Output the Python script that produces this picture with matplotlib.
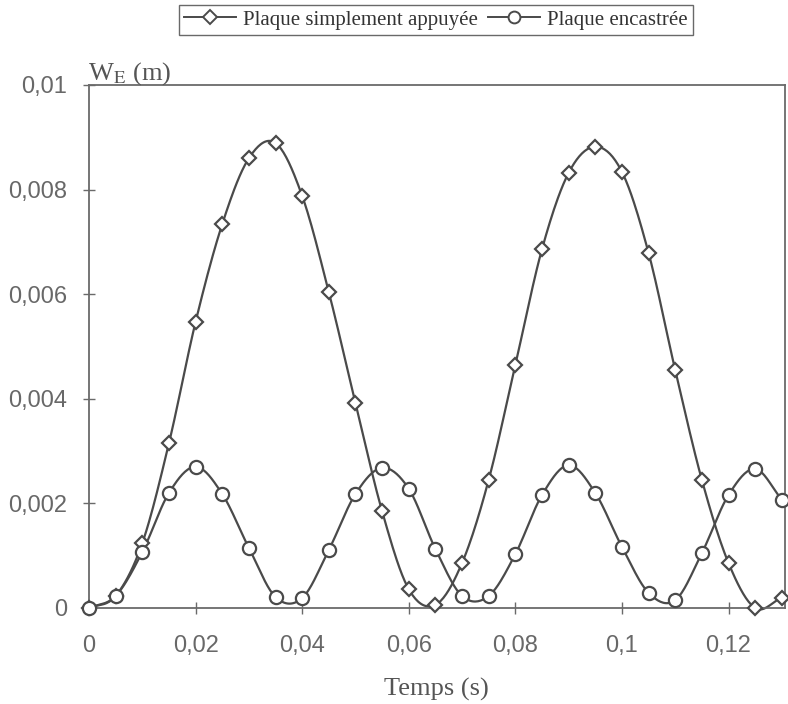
import numpy as np
import matplotlib
matplotlib.use("Agg")
import matplotlib.pyplot as plt
from matplotlib.lines import Line2D

# ---- data ----
temps = [0.0, 0.005, 0.01, 0.015, 0.02, 0.025, 0.03, 0.035, 0.04, 0.045,
         0.05, 0.055, 0.06, 0.065, 0.07, 0.075, 0.08, 0.085, 0.09, 0.095,
         0.1, 0.105, 0.11, 0.115, 0.12, 0.125, 0.13]
w_appuyee = [0.0, 0.00023, 0.00124, 0.00315, 0.00547, 0.00734, 0.0086, 0.00889,
             0.00788, 0.00604, 0.00392, 0.00185, 0.00036, 0.00006, 0.00086,
             0.00245, 0.00465, 0.00686, 0.00832, 0.00882, 0.00834, 0.00679,
             0.00455, 0.00245, 0.00086, 0.0, 0.0002]
w_encastree = [0.0, 0.00023, 0.00107, 0.0022, 0.0027, 0.00218, 0.00115, 0.00021,
               0.00019, 0.00111, 0.00218, 0.00268, 0.00228, 0.00113, 0.00023,
               0.00023, 0.00103, 0.00216, 0.00273, 0.0022, 0.00117, 0.00029,
               0.00015, 0.00105, 0.00216, 0.00266, 0.00207]
xticks = [0, 0.02, 0.04, 0.06, 0.08, 0.1, 0.12]
xticklabels = ["0", "0,02", "0,04", "0,06", "0,08", "0,1", "0,12"]
yticks = [0, 0.002, 0.004, 0.006, 0.008, 0.01]
yticklabels = ["0", "0,002", "0,004", "0,006", "0,008", "0,01"]
labels = ["Plaque simplement appuyée", "Plaque encastrée"]


def smooth(x, y, n=20):
    """Catmull-Rom smoothing of the line through the data points (rendering only)."""
    x = np.asarray(x, float); y = np.asarray(y, float)
    px = np.concatenate([[2 * x[0] - x[1]], x, [2 * x[-1] - x[-2]]])
    py = np.concatenate([[2 * y[0] - y[1]], y, [2 * y[-1] - y[-2]]])
    xs, ys = [], []
    t = np.linspace(0, 1, n, endpoint=False)
    for i in range(1, len(px) - 2):
        for arr, out in ((px, xs), (py, ys)):
            p0, p1, p2, p3 = arr[i - 1], arr[i], arr[i + 1], arr[i + 2]
            out.extend(0.5 * ((2 * p1) + (-p0 + p2) * t
                              + (2 * p0 - 5 * p1 + 4 * p2 - p3) * t ** 2
                              + (-p0 + 3 * p1 - 3 * p2 + p3) * t ** 3))
    xs.append(x[-1]); ys.append(y[-1])
    return np.array(xs), np.array(ys)


line_col = "#4a4a4a"
text_col = "#555555"
tick_col = "#686868"
serif = ["Liberation Serif", "DejaVu Serif"]
sans = ["Liberation Sans", "DejaVu Sans"]

fig = plt.figure(figsize=(7.88, 7.04), dpi=100)
ax = fig.add_axes([89 / 788, 1 - 608 / 704, (785 - 89) / 788, (608 - 85) / 704])

for yv, mk, ms in ((w_appuyee, "D", 7.5), (w_encastree, "o", 9.5)):
    sx, sy = smooth(temps, yv)
    ax.plot(sx, sy, color=line_col, lw=1.6, clip_on=False, zorder=2)
    ax.plot(temps, yv, linestyle="none", marker=mk, ms=ms, mfc="white",
            mec=line_col, mew=1.6, clip_on=False, zorder=3)

ax.set_xlim(0, 0.1306)
ax.set_ylim(0, 0.01)
ax.set_xticks(xticks)
ax.set_xticklabels(xticklabels)
ax.set_yticks(yticks)
ax.set_yticklabels(yticklabels)
for sp in ax.spines.values():
    sp.set_color("#6a6a6a")
    sp.set_linewidth(1.3)
ax.tick_params(direction="inout", length=9, width=1.0, color="#6a6a6a",
               labelsize=17, labelcolor=tick_col)
ax.tick_params(axis="x", pad=15)
ax.tick_params(axis="y", pad=11)
for lab in ax.get_xticklabels() + ax.get_yticklabels():
    lab.set_family(sans)

fig.text(0.5 * (89 + 783) / 788, 1 - 689 / 704, "Temps (s)", family=serif,
         fontsize=19, color=text_col, ha="center", va="center")
fig.text(88 / 788, 1 - 80 / 704, r"W$_{\mathrm{E}}$ (m)", family=serif,
         fontsize=19, color=text_col, ha="left", va="baseline",
         math_fontfamily="stix")

handles = [
    Line2D([], [], color=line_col, lw=1.4, marker="D", ms=7, mfc="white",
           mec=line_col, mew=1.4),
    Line2D([], [], color=line_col, lw=1.4, marker="o", ms=8.5, mfc="white",
           mec=line_col, mew=1.4),
]
leg = fig.legend(handles, labels, loc="center right",
                 bbox_to_anchor=(693 / 788, 1 - 20 / 704),
                 ncol=2, fancybox=False, frameon=True, edgecolor="#444444",
                 prop={"family": serif, "size": 15}, handlelength=2.5,
                 handletextpad=0.33, columnspacing=0.5, borderpad=0.25,
                 borderaxespad=0)
leg.get_frame().set_linewidth(1.0)
for t in leg.get_texts():
    t.set_color("#333333")

fig.savefig("out.png", dpi=100)
